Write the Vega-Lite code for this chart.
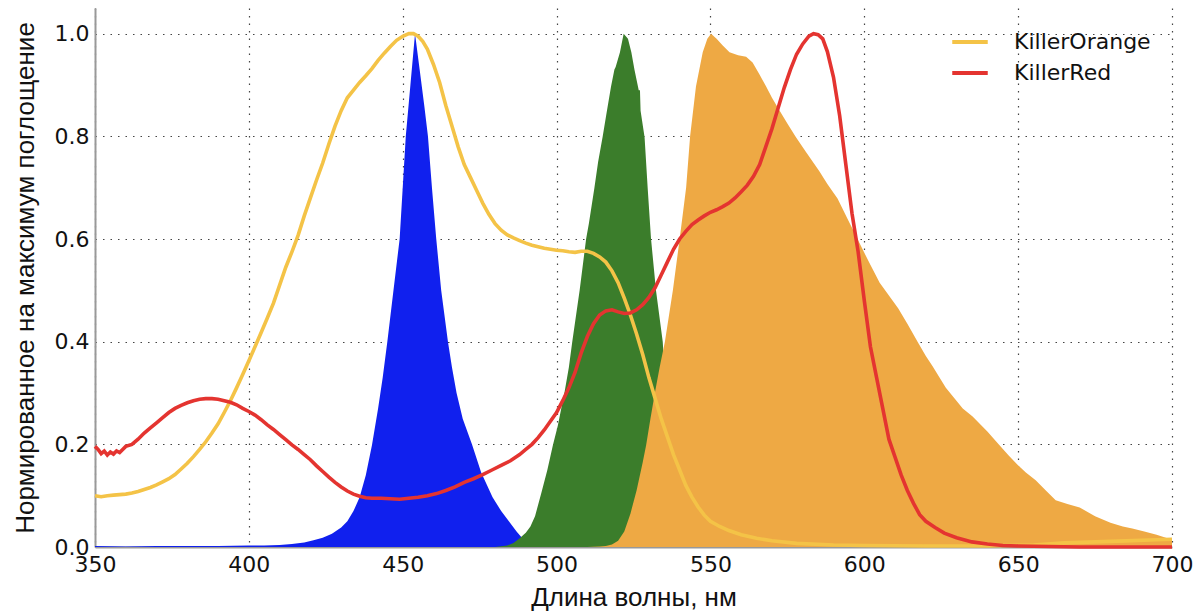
{
"$schema": "https://vega.github.io/schema/vega-lite/v6.json",
"width": 1077,
"height": 539,
"autosize": {"type": "none"},
"padding": {"left": 95, "top": 8, "right": 26, "bottom": 66},
"background": "white",
"config": {"view": {"stroke": null}},
"datasets": {
"blue": [
{"wl":350,"v":0.002},{"wl":360,"v":0.001},{"wl":370,"v":0.002},{"wl":380,"v":0.002},{"wl":390,"v":0.002},{"wl":400,"v":0.003},{"wl":405,"v":0.003},{"wl":410,"v":0.004},{"wl":414,"v":0.006},{"wl":418,"v":0.009},{"wl":421,"v":0.013},{"wl":424,"v":0.018},{"wl":427,"v":0.026},{"wl":430,"v":0.038},{"wl":432,"v":0.05},{"wl":434,"v":0.07},{"wl":436,"v":0.097},{"wl":438,"v":0.14},{"wl":440,"v":0.198},{"wl":442,"v":0.27},{"wl":443.5,"v":0.33},{"wl":445,"v":0.4},{"wl":447,"v":0.5},{"wl":449,"v":0.6},{"wl":450,"v":0.7},{"wl":451,"v":0.8},{"wl":452.5,"v":0.9},{"wl":454,"v":1.0},{"wl":455.5,"v":0.93},{"wl":457,"v":0.86},{"wl":458.2,"v":0.8},{"wl":459.5,"v":0.7},{"wl":460.9,"v":0.6},{"wl":462.5,"v":0.5},{"wl":464.7,"v":0.4},{"wl":466,"v":0.35},{"wl":467.5,"v":0.3},{"wl":469.5,"v":0.25},{"wl":472.5,"v":0.2},{"wl":475.5,"v":0.145},{"wl":479.2,"v":0.097},{"wl":482,"v":0.07},{"wl":484.5,"v":0.05},{"wl":487,"v":0.03},{"wl":489,"v":0.016},{"wl":491,"v":0.007},{"wl":493,"v":0.003},{"wl":496,"v":0.001},{"wl":500,"v":0}
],
"green": [
{"wl":480,"v":0},{"wl":484,"v":0.003},{"wl":486,"v":0.008},{"wl":488,"v":0.017},{"wl":490,"v":0.028},{"wl":491.5,"v":0.04},{"wl":493,"v":0.06},{"wl":495,"v":0.104},{"wl":497,"v":0.15},{"wl":498.8,"v":0.198},{"wl":500.4,"v":0.236},{"wl":502.6,"v":0.302},{"wl":504,"v":0.35},{"wl":505.1,"v":0.4},{"wl":507.5,"v":0.5},{"wl":509.6,"v":0.6},{"wl":510.5,"v":0.63},{"wl":512.3,"v":0.7},{"wl":513.5,"v":0.75},{"wl":515,"v":0.8},{"wl":516.1,"v":0.84},{"wl":517.7,"v":0.897},{"wl":518.8,"v":0.93},{"wl":519.2,"v":0.935},{"wl":520.6,"v":0.964},{"wl":521.8,"v":1.0},{"wl":523.2,"v":0.99},{"wl":524.3,"v":0.964},{"wl":525.3,"v":0.93},{"wl":526.7,"v":0.89},{"wl":527.1,"v":0.89},{"wl":527.3,"v":0.85},{"wl":528.6,"v":0.798},{"wl":529.6,"v":0.7},{"wl":530.7,"v":0.6},{"wl":532.3,"v":0.5},{"wl":534.5,"v":0.4},{"wl":535.5,"v":0.3},{"wl":536.5,"v":0.2},{"wl":537.5,"v":0.1},{"wl":539,"v":0.03},{"wl":541,"v":0}
],
"orange": [
{"wl":510,"v":0},{"wl":514,"v":0.001},{"wl":516,"v":0.002},{"wl":518,"v":0.005},{"wl":520,"v":0.012},{"wl":522,"v":0.03},{"wl":524,"v":0.065},{"wl":526,"v":0.11},{"wl":528,"v":0.165},{"wl":529.1,"v":0.198},{"wl":530.5,"v":0.25},{"wl":532,"v":0.302},{"wl":533.5,"v":0.35},{"wl":535.2,"v":0.4},{"wl":537.8,"v":0.5},{"wl":540,"v":0.6},{"wl":542.1,"v":0.7},{"wl":543.4,"v":0.8},{"wl":545.3,"v":0.897},{"wl":547.5,"v":0.964},{"wl":549,"v":0.99},{"wl":550.2,"v":1.0},{"wl":552,"v":0.99},{"wl":554,"v":0.977},{"wl":556.2,"v":0.964},{"wl":559,"v":0.958},{"wl":561.6,"v":0.955},{"wl":563.7,"v":0.944},{"wl":566,"v":0.92},{"wl":568.1,"v":0.897},{"wl":570,"v":0.875},{"wl":572.4,"v":0.851},{"wl":575,"v":0.825},{"wl":577.8,"v":0.798},{"wl":581,"v":0.77},{"wl":585.4,"v":0.732},{"wl":588,"v":0.707},{"wl":591.3,"v":0.679},{"wl":594.5,"v":0.64},{"wl":597.8,"v":0.6},{"wl":601.6,"v":0.554},{"wl":605,"v":0.515},{"wl":608,"v":0.49},{"wl":611,"v":0.465},{"wl":614,"v":0.435},{"wl":617.5,"v":0.398},{"wl":620,"v":0.372},{"wl":622.2,"v":0.352},{"wl":626.5,"v":0.31},{"wl":632,"v":0.27},{"wl":635.2,"v":0.254},{"wl":640,"v":0.225},{"wl":643.8,"v":0.199},{"wl":647,"v":0.178},{"wl":649.8,"v":0.16},{"wl":652.5,"v":0.145},{"wl":655.7,"v":0.13},{"wl":659,"v":0.11},{"wl":662.2,"v":0.091},{"wl":666,"v":0.084},{"wl":670,"v":0.077},{"wl":675,"v":0.06},{"wl":680,"v":0.047},{"wl":684,"v":0.04},{"wl":687.1,"v":0.036},{"wl":691,"v":0.03},{"wl":695,"v":0.024},{"wl":699,"v":0.016},{"wl":700,"v":0.015}
],
"lines": [
{"wl":350,"v":0.1,"s":"KillerOrange"},{"wl":352,"v":0.098,"s":"KillerOrange"},{"wl":354,"v":0.1,"s":"KillerOrange"},{"wl":356,"v":0.101,"s":"KillerOrange"},{"wl":358,"v":0.102,"s":"KillerOrange"},{"wl":360,"v":0.103,"s":"KillerOrange"},{"wl":362,"v":0.105,"s":"KillerOrange"},{"wl":364,"v":0.108,"s":"KillerOrange"},{"wl":366,"v":0.112,"s":"KillerOrange"},{"wl":368,"v":0.116,"s":"KillerOrange"},{"wl":370,"v":0.121,"s":"KillerOrange"},{"wl":372,"v":0.127,"s":"KillerOrange"},{"wl":374,"v":0.133,"s":"KillerOrange"},{"wl":376,"v":0.141,"s":"KillerOrange"},{"wl":378,"v":0.152,"s":"KillerOrange"},{"wl":380,"v":0.163,"s":"KillerOrange"},{"wl":382,"v":0.176,"s":"KillerOrange"},{"wl":384,"v":0.19,"s":"KillerOrange"},{"wl":386,"v":0.205,"s":"KillerOrange"},{"wl":388,"v":0.222,"s":"KillerOrange"},{"wl":390,"v":0.24,"s":"KillerOrange"},{"wl":392,"v":0.262,"s":"KillerOrange"},{"wl":394,"v":0.285,"s":"KillerOrange"},{"wl":396,"v":0.31,"s":"KillerOrange"},{"wl":398,"v":0.336,"s":"KillerOrange"},{"wl":400,"v":0.363,"s":"KillerOrange"},{"wl":402,"v":0.39,"s":"KillerOrange"},{"wl":404,"v":0.418,"s":"KillerOrange"},{"wl":406,"v":0.446,"s":"KillerOrange"},{"wl":408,"v":0.475,"s":"KillerOrange"},{"wl":410,"v":0.51,"s":"KillerOrange"},{"wl":412,"v":0.545,"s":"KillerOrange"},{"wl":414,"v":0.575,"s":"KillerOrange"},{"wl":416,"v":0.607,"s":"KillerOrange"},{"wl":418,"v":0.645,"s":"KillerOrange"},{"wl":420,"v":0.68,"s":"KillerOrange"},{"wl":422,"v":0.715,"s":"KillerOrange"},{"wl":424,"v":0.748,"s":"KillerOrange"},{"wl":426,"v":0.785,"s":"KillerOrange"},{"wl":428,"v":0.82,"s":"KillerOrange"},{"wl":430,"v":0.85,"s":"KillerOrange"},{"wl":432,"v":0.875,"s":"KillerOrange"},{"wl":434,"v":0.89,"s":"KillerOrange"},{"wl":436,"v":0.905,"s":"KillerOrange"},{"wl":438,"v":0.918,"s":"KillerOrange"},{"wl":440,"v":0.932,"s":"KillerOrange"},{"wl":442,"v":0.948,"s":"KillerOrange"},{"wl":444,"v":0.962,"s":"KillerOrange"},{"wl":446,"v":0.975,"s":"KillerOrange"},{"wl":448,"v":0.987,"s":"KillerOrange"},{"wl":450,"v":0.995,"s":"KillerOrange"},{"wl":452,"v":1.0,"s":"KillerOrange"},{"wl":453.5,"v":1.0,"s":"KillerOrange"},{"wl":455,"v":0.995,"s":"KillerOrange"},{"wl":456.5,"v":0.985,"s":"KillerOrange"},{"wl":458,"v":0.97,"s":"KillerOrange"},{"wl":460,"v":0.94,"s":"KillerOrange"},{"wl":462,"v":0.905,"s":"KillerOrange"},{"wl":464,"v":0.86,"s":"KillerOrange"},{"wl":466,"v":0.82,"s":"KillerOrange"},{"wl":468,"v":0.78,"s":"KillerOrange"},{"wl":470,"v":0.745,"s":"KillerOrange"},{"wl":472,"v":0.72,"s":"KillerOrange"},{"wl":474,"v":0.695,"s":"KillerOrange"},{"wl":476,"v":0.67,"s":"KillerOrange"},{"wl":478,"v":0.648,"s":"KillerOrange"},{"wl":480,"v":0.63,"s":"KillerOrange"},{"wl":482,"v":0.617,"s":"KillerOrange"},{"wl":484,"v":0.608,"s":"KillerOrange"},{"wl":486,"v":0.602,"s":"KillerOrange"},{"wl":488,"v":0.597,"s":"KillerOrange"},{"wl":490,"v":0.592,"s":"KillerOrange"},{"wl":492,"v":0.588,"s":"KillerOrange"},{"wl":494,"v":0.585,"s":"KillerOrange"},{"wl":496,"v":0.582,"s":"KillerOrange"},{"wl":498,"v":0.58,"s":"KillerOrange"},{"wl":500,"v":0.578,"s":"KillerOrange"},{"wl":502,"v":0.577,"s":"KillerOrange"},{"wl":504,"v":0.575,"s":"KillerOrange"},{"wl":506,"v":0.574,"s":"KillerOrange"},{"wl":508,"v":0.576,"s":"KillerOrange"},{"wl":510,"v":0.576,"s":"KillerOrange"},{"wl":512,"v":0.572,"s":"KillerOrange"},{"wl":514,"v":0.565,"s":"KillerOrange"},{"wl":516,"v":0.555,"s":"KillerOrange"},{"wl":518,"v":0.538,"s":"KillerOrange"},{"wl":520,"v":0.515,"s":"KillerOrange"},{"wl":522,"v":0.485,"s":"KillerOrange"},{"wl":524,"v":0.452,"s":"KillerOrange"},{"wl":526,"v":0.415,"s":"KillerOrange"},{"wl":528,"v":0.375,"s":"KillerOrange"},{"wl":530,"v":0.33,"s":"KillerOrange"},{"wl":532,"v":0.29,"s":"KillerOrange"},{"wl":534,"v":0.25,"s":"KillerOrange"},{"wl":536,"v":0.215,"s":"KillerOrange"},{"wl":538,"v":0.18,"s":"KillerOrange"},{"wl":540,"v":0.15,"s":"KillerOrange"},{"wl":542,"v":0.12,"s":"KillerOrange"},{"wl":544,"v":0.097,"s":"KillerOrange"},{"wl":546,"v":0.078,"s":"KillerOrange"},{"wl":548,"v":0.062,"s":"KillerOrange"},{"wl":550,"v":0.05,"s":"KillerOrange"},{"wl":553,"v":0.04,"s":"KillerOrange"},{"wl":556,"v":0.032,"s":"KillerOrange"},{"wl":560,"v":0.024,"s":"KillerOrange"},{"wl":565,"v":0.017,"s":"KillerOrange"},{"wl":570,"v":0.012,"s":"KillerOrange"},{"wl":578,"v":0.007,"s":"KillerOrange"},{"wl":590,"v":0.004,"s":"KillerOrange"},{"wl":600,"v":0.003,"s":"KillerOrange"},{"wl":620,"v":0.002,"s":"KillerOrange"},{"wl":640,"v":0.002,"s":"KillerOrange"},{"wl":655,"v":0.004,"s":"KillerOrange"},{"wl":665,"v":0.008,"s":"KillerOrange"},{"wl":675,"v":0.01,"s":"KillerOrange"},{"wl":685,"v":0.012,"s":"KillerOrange"},{"wl":695,"v":0.014,"s":"KillerOrange"},{"wl":700,"v":0.015,"s":"KillerOrange"},
{"wl":350,"v":0.196,"s":"KillerRed"},{"wl":351,"v":0.19,"s":"KillerRed"},{"wl":352,"v":0.182,"s":"KillerRed"},{"wl":353,"v":0.187,"s":"KillerRed"},{"wl":354,"v":0.179,"s":"KillerRed"},{"wl":355,"v":0.185,"s":"KillerRed"},{"wl":356,"v":0.181,"s":"KillerRed"},{"wl":357,"v":0.187,"s":"KillerRed"},{"wl":358,"v":0.184,"s":"KillerRed"},{"wl":359,"v":0.19,"s":"KillerRed"},{"wl":360,"v":0.196,"s":"KillerRed"},{"wl":362,"v":0.2,"s":"KillerRed"},{"wl":364,"v":0.21,"s":"KillerRed"},{"wl":366,"v":0.222,"s":"KillerRed"},{"wl":368,"v":0.232,"s":"KillerRed"},{"wl":370,"v":0.242,"s":"KillerRed"},{"wl":372,"v":0.252,"s":"KillerRed"},{"wl":374,"v":0.262,"s":"KillerRed"},{"wl":376,"v":0.27,"s":"KillerRed"},{"wl":378,"v":0.276,"s":"KillerRed"},{"wl":380,"v":0.281,"s":"KillerRed"},{"wl":382,"v":0.285,"s":"KillerRed"},{"wl":384,"v":0.288,"s":"KillerRed"},{"wl":386,"v":0.289,"s":"KillerRed"},{"wl":388,"v":0.289,"s":"KillerRed"},{"wl":390,"v":0.288,"s":"KillerRed"},{"wl":392,"v":0.285,"s":"KillerRed"},{"wl":394,"v":0.282,"s":"KillerRed"},{"wl":396,"v":0.277,"s":"KillerRed"},{"wl":398,"v":0.27,"s":"KillerRed"},{"wl":400,"v":0.264,"s":"KillerRed"},{"wl":402,"v":0.257,"s":"KillerRed"},{"wl":404,"v":0.248,"s":"KillerRed"},{"wl":406,"v":0.238,"s":"KillerRed"},{"wl":408,"v":0.229,"s":"KillerRed"},{"wl":410,"v":0.219,"s":"KillerRed"},{"wl":412,"v":0.209,"s":"KillerRed"},{"wl":414,"v":0.199,"s":"KillerRed"},{"wl":416,"v":0.19,"s":"KillerRed"},{"wl":418,"v":0.18,"s":"KillerRed"},{"wl":420,"v":0.17,"s":"KillerRed"},{"wl":422,"v":0.158,"s":"KillerRed"},{"wl":424,"v":0.147,"s":"KillerRed"},{"wl":426,"v":0.136,"s":"KillerRed"},{"wl":428,"v":0.126,"s":"KillerRed"},{"wl":430,"v":0.117,"s":"KillerRed"},{"wl":432,"v":0.109,"s":"KillerRed"},{"wl":434,"v":0.103,"s":"KillerRed"},{"wl":436,"v":0.099,"s":"KillerRed"},{"wl":438,"v":0.096,"s":"KillerRed"},{"wl":440,"v":0.095,"s":"KillerRed"},{"wl":443,"v":0.095,"s":"KillerRed"},{"wl":446,"v":0.094,"s":"KillerRed"},{"wl":449,"v":0.093,"s":"KillerRed"},{"wl":452,"v":0.095,"s":"KillerRed"},{"wl":455,"v":0.097,"s":"KillerRed"},{"wl":458,"v":0.1,"s":"KillerRed"},{"wl":461,"v":0.104,"s":"KillerRed"},{"wl":464,"v":0.11,"s":"KillerRed"},{"wl":467,"v":0.117,"s":"KillerRed"},{"wl":470,"v":0.126,"s":"KillerRed"},{"wl":473,"v":0.133,"s":"KillerRed"},{"wl":476,"v":0.141,"s":"KillerRed"},{"wl":479,"v":0.15,"s":"KillerRed"},{"wl":482,"v":0.159,"s":"KillerRed"},{"wl":485,"v":0.168,"s":"KillerRed"},{"wl":488,"v":0.18,"s":"KillerRed"},{"wl":490,"v":0.19,"s":"KillerRed"},{"wl":492,"v":0.2,"s":"KillerRed"},{"wl":494,"v":0.213,"s":"KillerRed"},{"wl":496,"v":0.228,"s":"KillerRed"},{"wl":498,"v":0.245,"s":"KillerRed"},{"wl":500,"v":0.262,"s":"KillerRed"},{"wl":502,"v":0.285,"s":"KillerRed"},{"wl":504,"v":0.31,"s":"KillerRed"},{"wl":506,"v":0.34,"s":"KillerRed"},{"wl":508,"v":0.378,"s":"KillerRed"},{"wl":510,"v":0.41,"s":"KillerRed"},{"wl":512,"v":0.435,"s":"KillerRed"},{"wl":514,"v":0.452,"s":"KillerRed"},{"wl":516,"v":0.46,"s":"KillerRed"},{"wl":518,"v":0.462,"s":"KillerRed"},{"wl":520,"v":0.458,"s":"KillerRed"},{"wl":522,"v":0.455,"s":"KillerRed"},{"wl":524,"v":0.456,"s":"KillerRed"},{"wl":526,"v":0.462,"s":"KillerRed"},{"wl":528,"v":0.472,"s":"KillerRed"},{"wl":530,"v":0.486,"s":"KillerRed"},{"wl":532,"v":0.505,"s":"KillerRed"},{"wl":534,"v":0.53,"s":"KillerRed"},{"wl":536,"v":0.555,"s":"KillerRed"},{"wl":538,"v":0.58,"s":"KillerRed"},{"wl":540,"v":0.6,"s":"KillerRed"},{"wl":542,"v":0.615,"s":"KillerRed"},{"wl":544,"v":0.628,"s":"KillerRed"},{"wl":546,"v":0.637,"s":"KillerRed"},{"wl":548,"v":0.645,"s":"KillerRed"},{"wl":550,"v":0.652,"s":"KillerRed"},{"wl":552,"v":0.657,"s":"KillerRed"},{"wl":554,"v":0.663,"s":"KillerRed"},{"wl":556,"v":0.67,"s":"KillerRed"},{"wl":558,"v":0.68,"s":"KillerRed"},{"wl":560,"v":0.692,"s":"KillerRed"},{"wl":562,"v":0.705,"s":"KillerRed"},{"wl":564,"v":0.722,"s":"KillerRed"},{"wl":566,"v":0.745,"s":"KillerRed"},{"wl":568,"v":0.78,"s":"KillerRed"},{"wl":570,"v":0.815,"s":"KillerRed"},{"wl":572,"v":0.855,"s":"KillerRed"},{"wl":574,"v":0.895,"s":"KillerRed"},{"wl":576,"v":0.93,"s":"KillerRed"},{"wl":578,"v":0.96,"s":"KillerRed"},{"wl":580,"v":0.98,"s":"KillerRed"},{"wl":582,"v":0.995,"s":"KillerRed"},{"wl":583.5,"v":1.0,"s":"KillerRed"},{"wl":585,"v":0.998,"s":"KillerRed"},{"wl":586.5,"v":0.99,"s":"KillerRed"},{"wl":588,"v":0.965,"s":"KillerRed"},{"wl":590,"v":0.915,"s":"KillerRed"},{"wl":592,"v":0.84,"s":"KillerRed"},{"wl":594,"v":0.745,"s":"KillerRed"},{"wl":596,"v":0.65,"s":"KillerRed"},{"wl":598,"v":0.575,"s":"KillerRed"},{"wl":600,"v":0.48,"s":"KillerRed"},{"wl":602,"v":0.39,"s":"KillerRed"},{"wl":604,"v":0.33,"s":"KillerRed"},{"wl":606,"v":0.27,"s":"KillerRed"},{"wl":608,"v":0.21,"s":"KillerRed"},{"wl":610,"v":0.175,"s":"KillerRed"},{"wl":612,"v":0.14,"s":"KillerRed"},{"wl":614,"v":0.11,"s":"KillerRed"},{"wl":616,"v":0.085,"s":"KillerRed"},{"wl":618,"v":0.063,"s":"KillerRed"},{"wl":620,"v":0.05,"s":"KillerRed"},{"wl":623,"v":0.038,"s":"KillerRed"},{"wl":626,"v":0.027,"s":"KillerRed"},{"wl":630,"v":0.018,"s":"KillerRed"},{"wl":635,"v":0.01,"s":"KillerRed"},{"wl":640,"v":0.006,"s":"KillerRed"},{"wl":645,"v":0.003,"s":"KillerRed"},{"wl":650,"v":0.002,"s":"KillerRed"},{"wl":660,"v":0.001,"s":"KillerRed"},{"wl":670,"v":0,"s":"KillerRed"},{"wl":700,"v":0,"s":"KillerRed"}
]
},
"encoding": {
"x": {"field": "wl", "type": "quantitative",
"scale": {"domain": [350, 700], "nice": false, "zero": false},
"axis": {"values": [350,400,450,500,550,600,650,700], "title": "Длина волны, нм",
"labelFont": "DejaVu Sans", "labelFontSize": 22, "labelColor": "#111", "labelPadding": 7, "labelFlush": false,
"titleFont": "Liberation Sans", "titleFontSize": 26, "titleFontWeight": "normal", "titleColor": "#111", "titlePadding": 9,
"ticks": false, "domainColor": "#999", "domainWidth": 2,
"grid": true, "gridColor": "#444", "gridDash": [1.5, 6], "gridWidth": 1.2}},
"y": {"field": "v", "type": "quantitative",
"scale": {"domain": [0, 1.05], "nice": false},
"axis": {"values": [0,0.2,0.4,0.6,0.8,1.0], "format": ".1f", "title": "Нормированное на максимум поглощение",
"labelFont": "DejaVu Sans", "labelFontSize": 22, "labelColor": "#111", "labelPadding": 6,
"titleFont": "Liberation Sans", "titleFontSize": 26, "titleFontWeight": "normal", "titleColor": "#111", "titlePadding": 16,
"ticks": false, "domainColor": "#999", "domainWidth": 2,
"grid": true, "gridColor": "#444", "gridDash": [1.5, 6], "gridWidth": 1.2}}
},
"layer": [
{"data": {"name": "blue"}, "mark": {"type": "area", "color": "#1020ee", "opacity": 1}},
{"data": {"name": "green"}, "mark": {"type": "area", "color": "#3b7d2b", "opacity": 1}},
{"data": {"name": "orange"}, "mark": {"type": "area", "color": "#eea944", "opacity": 1}},
{"data": {"name": "lines"}, "mark": {"type": "line", "strokeWidth": 3.6},
"encoding": {"color": {"field": "s", "type": "nominal",
"scale": {"domain": ["KillerOrange", "KillerRed"], "range": ["#f4c347", "#e43430"]},
"legend": {"title": null, "orient": "none", "legendX": 855, "legendY": 14,
"symbolType": "stroke", "symbolSize": 1260, "symbolStrokeWidth": 4,
"labelFont": "DejaVu Sans", "labelFontSize": 22, "labelColor": "#111", "labelOffset": 24, "rowPadding": -3, "padding": 0}}}}
]
}
